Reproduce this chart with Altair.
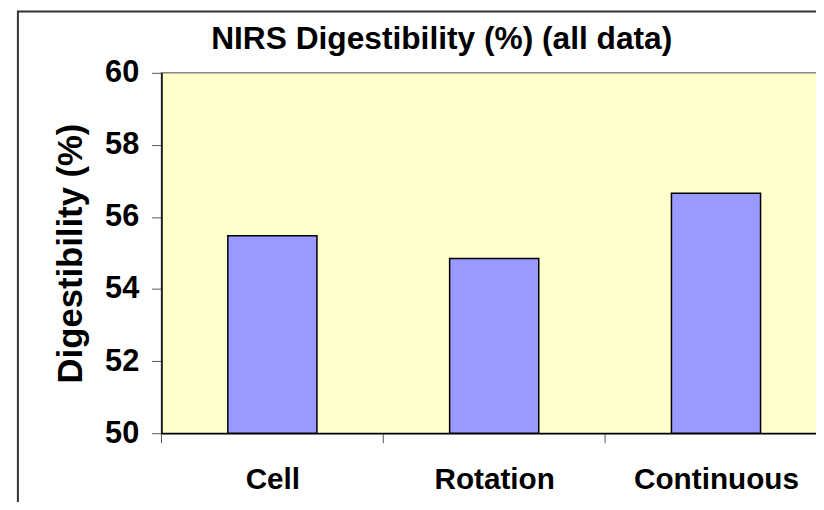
import altair as alt
import pandas as pd

categories = ["Cell", "Rotation", "Continuous"]
values = [55.48, 54.85, 56.66]
y_ticks = [50, 52, 54, 56, 58, 60]
chart_title = ["NIRS Digestibility (%) (all data)"]

df = pd.DataFrame({"treatment": categories, "digestibility": values,
                   "pos": list(range(len(categories)))})
bounds_df = pd.DataFrame({"b": [i - 0.5 for i in range(len(categories))]})
one_df = pd.DataFrame({"k": [0]})
title_df = pd.DataFrame({"t": chart_title})

FONT = "Liberation Sans"
W, H = 661, 364
x_domain = [-0.5, 2.5]
label_expr = "[" + ",".join("'" + c + "'" for c in categories) + "][datum.value]"

x_scale = alt.Scale(domain=x_domain, range=[0, 672], nice=False, zero=False, padding=0)

plot_bg = alt.Chart(one_df).mark_rect(
    fill="#FFFFCC", stroke="#888888", strokeWidth=1.5
).encode(
    x=alt.value(0), x2=alt.value(W + 20), y=alt.value(0), y2=alt.value(H)
)

bars = alt.Chart(df).mark_bar(
    color="#9999FF", stroke="#000000", strokeWidth=1.5, size=90
).encode(
    x=alt.X("pos:Q", scale=x_scale,
            axis=alt.Axis(title=None, values=list(range(len(categories))),
                          labelExpr=label_expr, labelAngle=0, labelFont=FONT,
                          labelFontSize=30, labelFontWeight="bold", labelColor="#000000",
                          labelPadding=32, labelFlush=False, labelOverlap=False,
                          ticks=False, domainColor="#000000", domainWidth=1.5,
                          grid=False, zindex=2)),
    y=alt.Y("digestibility:Q",
            scale=alt.Scale(domain=[50, 60], nice=False, zero=False),
            axis=alt.Axis(title="Digestibility (%)", values=y_ticks, titleFont=FONT,
                          titleFontSize=35, titleFontWeight="bold", titleColor="#000000",
                          titlePadding=16, labelFont=FONT, labelFontSize=31,
                          labelFontWeight="bold", labelColor="#000000", labelPadding=13,
                          tickSize=10, tickColor="#555555", domainColor="#000000",
                          domainWidth=1.5, grid=False, zindex=2)),
    y2=alt.datum(50),
)

band_ticks = alt.Chart(bounds_df).mark_rule(color="#555555", strokeWidth=1).encode(
    x=alt.X("b:Q", scale=x_scale),
    y=alt.value(H), y2=alt.value(H + 10),
)

frame = alt.Chart(one_df).mark_rect(
    filled=False, stroke="#333333", strokeWidth=2
).encode(
    x=alt.value(-145), x2=alt.value(900), y=alt.value(-62), y2=alt.value(600)
)

title_text = alt.Chart(title_df).mark_text(
    font=FONT, fontSize=32, fontWeight="bold", color="#000000",
    align="center", baseline="alphabetic"
).encode(
    text="t:N", x=alt.value(283), y=alt.value(-24)
)

chart = alt.layer(frame, plot_bg, bars, band_ticks, title_text).properties(
    width=W, height=H,
    autosize=alt.AutoSizeParams(type="none"),
    padding={"left": 155, "top": 63, "right": 0, "bottom": 67},
).configure_view(
    stroke=None
).configure(background="#FFFFFF")

chart.save("out.html", embed_options={"renderer": "svg", "actions": False})
